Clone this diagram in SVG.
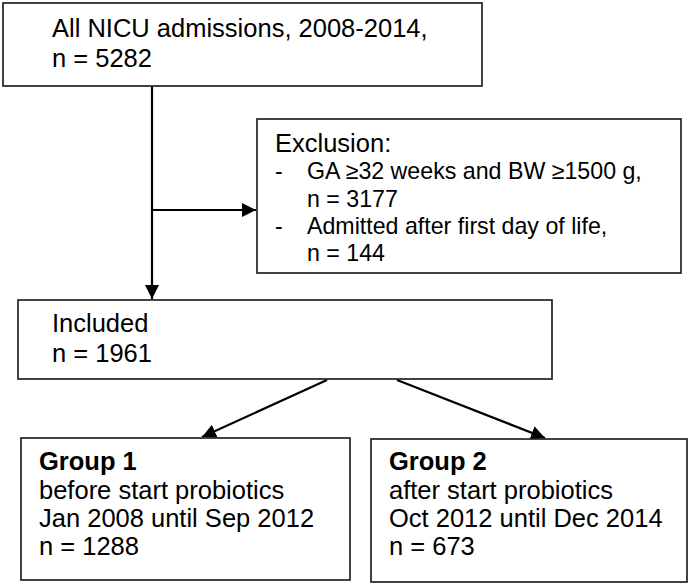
<svg xmlns="http://www.w3.org/2000/svg" width="700" height="587" viewBox="0 0 700 587">
<defs>
<style>
.box{fill:#fff;stroke:#222;stroke-width:1.7}
text{font-family:"Liberation Sans",Arial,sans-serif;font-size:25.5px;fill:#000}
.b{font-weight:bold}
.s{font-size:23.2px}
.c{stroke:#000;stroke-width:2.2;fill:none}
</style>
<marker id="ah" viewBox="0 0 14 14" refX="14" refY="7" markerWidth="14" markerHeight="14" markerUnits="userSpaceOnUse" orient="auto">
<path d="M0,0L14,7L0,14z" fill="#000"/>
</marker>
</defs>
<rect width="700" height="587" fill="#fff"/>
<g id="connectors">
<line class="c" x1="152" y1="86" x2="152" y2="299" marker-end="url(#ah)"/>
<line class="c" x1="152" y1="210" x2="256" y2="210" marker-end="url(#ah)"/>
<line class="c" x1="327" y1="380" x2="202" y2="437" marker-end="url(#ah)"/>
<line class="c" x1="397" y1="380" x2="545" y2="438" marker-end="url(#ah)"/>
</g>
<g id="all">
<rect class="box" x="3" y="3" width="479" height="83"/>
<text x="52" y="37">All NICU admissions, 2008-2014,</text>
<text x="52" y="67">n = 5282</text>
</g>
<g id="exclusion">
<rect class="box" x="257" y="119" width="424" height="154"/>
<text x="275" y="152">Exclusion:</text>
<text class="s" x="275" y="179">-</text>
<text class="s" x="307" y="179">GA ≥32 weeks and BW ≥1500 g,</text>
<text class="s" x="307" y="207">n = 3177</text>
<text class="s" x="275" y="234">-</text>
<text class="s" x="307" y="234">Admitted after first day of life,</text>
<text class="s" x="307" y="261">n = 144</text>
</g>
<g id="included">
<rect class="box" x="18" y="300" width="534" height="79"/>
<text x="52" y="332">Included</text>
<text x="52" y="362">n = 1961</text>
</g>
<g id="group1">
<rect class="box" x="21" y="438" width="329" height="142"/>
<text class="b" x="39" y="470">Group 1</text>
<text x="39" y="499">before start probiotics</text>
<text x="39" y="527">Jan 2008 until Sep 2012</text>
<text x="39" y="555">n = 1288</text>
</g>
<g id="group2">
<rect class="box" x="371" y="439" width="316" height="143"/>
<text class="b" x="389" y="470">Group 2</text>
<text x="389" y="499">after start probiotics</text>
<text x="389" y="527">Oct 2012 until Dec 2014</text>
<text x="389" y="555">n = 673</text>
</g>
</svg>
